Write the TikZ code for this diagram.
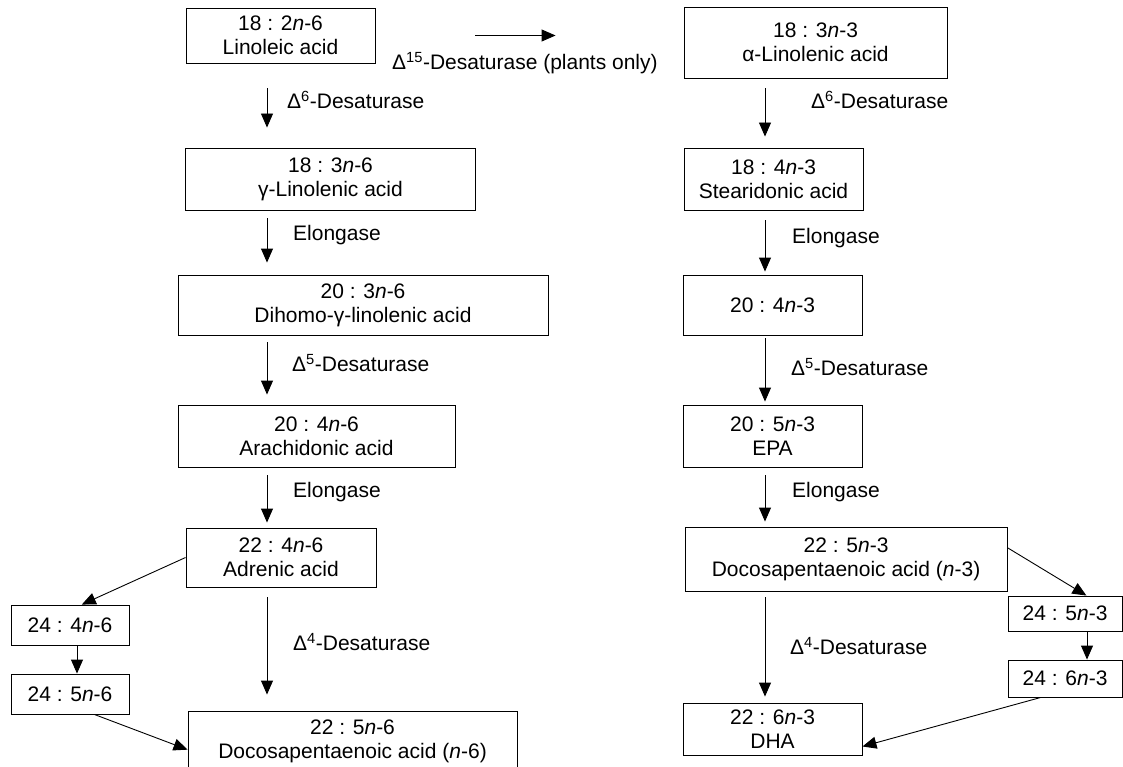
\documentclass[tikz,border=0pt]{standalone}
\usepackage{fontspec}
\setmainfont{Liberation Sans}
\usetikzlibrary{arrows.meta}
\tikzset{
  acid/.style={draw, line width=0.9pt, align=center, inner sep=0pt},
  enz/.style={anchor=west, inner sep=0pt},
  arr/.style={-{Triangle[length=14pt,width=12pt]}, line width=0.9pt},
}
\begin{document}
\begin{tikzpicture}[x=1pt,y=-1pt,font=\fontsize{21}{24}\selectfont]
\useasboundingbox (0,0) rectangle (1123,767);
\coordinate (colL) at (267,0);
\coordinate (colR) at (765,0);

% n-6 column
\node[acid, minimum width=189pt, minimum height=55pt] (lino) at (280.5,35.5) {18 : 2\textit{n}-6\\Linoleic acid};
\node[acid, minimum width=290pt, minimum height=62pt] (gla) at (330.5,179) {18 : 3\textit{n}-6\\γ-Linolenic acid};
\node[acid, minimum width=370pt, minimum height=60pt] (dgla) at (363,305) {20 : 3\textit{n}-6\\Dihomo-γ-linolenic acid};
\node[acid, minimum width=277pt, minimum height=62pt] (ara) at (316.5,436) {20 : 4\textit{n}-6\\Arachidonic acid};
\node[acid, minimum width=190pt, minimum height=59pt] (adr) at (281,557.5) {22 : 4\textit{n}-6\\Adrenic acid};
\node[acid, minimum width=329pt, minimum height=60pt] (dpa6) at (352.5,741) {22 : 5\textit{n}-6\\Docosapentaenoic acid (\textit{n}-6)};
\node[acid, minimum width=118pt, minimum height=40pt] (c244) at (70,625) {24 : 4\textit{n}-6};
\node[acid, minimum width=118pt, minimum height=40pt] (c245) at (70,694) {24 : 5\textit{n}-6};

% n-3 column
\node[acid, minimum width=263pt, minimum height=71pt] (ala) at (815.5,42.5) {18 : 3\textit{n}-3\\α-Linolenic acid};
\node[acid, minimum width=179pt, minimum height=62pt] (sda) at (773.5,179) {18 : 4\textit{n}-3\\Stearidonic acid};
\node[acid, minimum width=179pt, minimum height=60pt] (eta) at (772.5,305) {20 : 4\textit{n}-3};
\node[acid, minimum width=179pt, minimum height=62pt] (epa) at (772.5,436) {20 : 5\textit{n}-3\\EPA};
\node[acid, minimum width=322pt, minimum height=64pt] (dpa3) at (846,559) {22 : 5\textit{n}-3\\Docosapentaenoic acid (\textit{n}-3)};
\node[acid, minimum width=179pt, minimum height=52pt] (dha) at (772.5,729) {22 : 6\textit{n}-3\\DHA};
\node[acid, minimum width=114pt, minimum height=35pt] (c245n3) at (1065,613.5) {24 : 5\textit{n}-3};
\node[acid, minimum width=114pt, minimum height=37pt] (c246n3) at (1065,678.5) {24 : 6\textit{n}-3};

% enzymes
\node[enz] (d15) at (392,63) {Δ\textsuperscript{15}-Desaturase (plants only)};
\node[enz] (d6L) at (287,100) {Δ\textsuperscript{6}-Desaturase};
\node[enz] (elL1) at (293,235) {Elongase};
\node[enz] (d5L) at (292,363) {Δ\textsuperscript{5}-Desaturase};
\node[enz] (elL2) at (293,492) {Elongase};
\node[enz] (d4L) at (293,642) {Δ\textsuperscript{4}-Desaturase};
\node[enz] (d6R) at (811,100) {Δ\textsuperscript{6}-Desaturase};
\node[enz] (elR1) at (792,238) {Elongase};
\node[enz] (d5R) at (791,367) {Δ\textsuperscript{5}-Desaturase};
\node[enz] (elR2) at (792,492) {Elongase};
\node[enz] (d4R) at (790,646) {Δ\textsuperscript{4}-Desaturase};

% main steps
\draw[arr, shorten <=100pt, shorten >=128pt] (lino.east) -- (lino.east -| ala.west);
\draw[arr, shorten <=25pt, shorten >=20pt] (lino.south -| colL) -- (gla.north -| colL);
\draw[arr, shorten <=8pt, shorten >=12pt] (gla.south -| colL) -- (dgla.north -| colL);
\draw[arr, shorten <=7pt, shorten >=10pt] (dgla.south -| colL) -- (ara.north -| colL);
\draw[arr, shorten <=8pt, shorten >=5pt] (ara.south -| colL) -- (adr.north -| colL);
\draw[arr, shorten <=10pt, shorten >=16pt] (adr.south -| colL) -- (dpa6.north -| colL);
\draw[arr, shorten <=10pt, shorten >=11pt] (ala.south -| colR) -- (sda.north -| colR);
\draw[arr, shorten <=10pt, shorten >=3pt] (sda.south -| colR) -- (eta.north -| colR);
\draw[arr, shorten <=3pt, shorten >=3pt] (eta.south -| colR) -- (epa.north -| colR);
\draw[arr, shorten <=8pt, shorten >=5pt] (epa.south -| colR) -- (dpa3.north -| colR);
\draw[arr, shorten <=6pt, shorten >=6pt] (dpa3.south -| colR) -- (dha.north -| colR);

% side routes
\draw[arr] (adr.west) -- (c244.60);
\draw[arr] ([xshift=7pt]c244.south) -- ([xshift=7pt]c245.north);
\draw[arr] (c245.-40) -- (dpa6.183);
\draw[arr] (dpa3.4) -- (c245n3.40);
\draw[arr] ([xshift=22pt]c245n3.south) -- ([xshift=22pt]c246n3.north);
\draw[arr] (c246n3.218) -- (dha.-11);
\end{tikzpicture}
\end{document}
